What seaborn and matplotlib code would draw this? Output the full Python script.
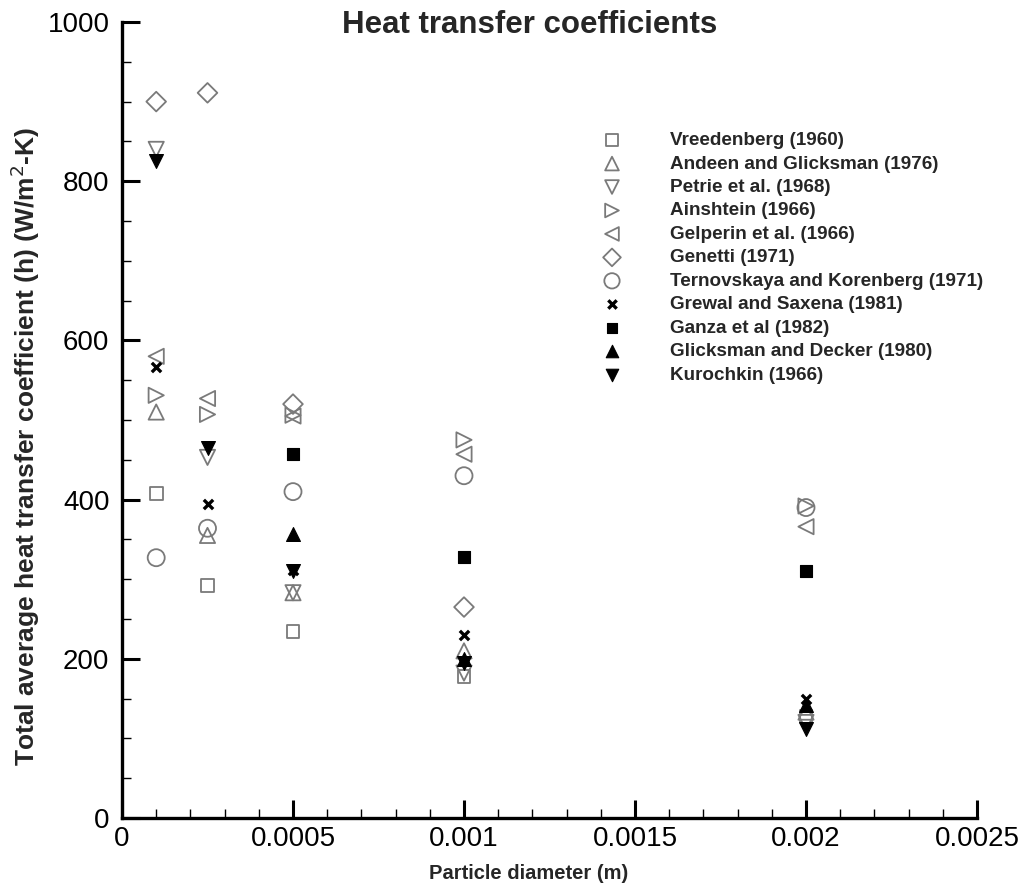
import matplotlib
matplotlib.use("Agg")
import matplotlib.pyplot as plt
from matplotlib.ticker import MultipleLocator, FixedLocator
import seaborn as sns
import pandas as pd

# ---- data ----
vreedenberg_x = [0.0001, 0.00025, 0.0005, 0.001, 0.002]
vreedenberg_y = [408, 292, 234, 178, 128]
andeen_x = [0.0001, 0.00025, 0.0005, 0.001, 0.002]
andeen_y = [510, 355, 283, 210, 133]
petrie_x = [0.0001, 0.00025, 0.0005, 0.001, 0.002]
petrie_y = [840, 453, 283, 182, 120]
ainshtein_x = [0.0001, 0.00025, 0.0005, 0.001, 0.002]
ainshtein_y = [531, 507, 506, 475, 392]
gelperin_x = [0.0001, 0.00025, 0.0005, 0.001, 0.002]
gelperin_y = [580, 527, 505, 457, 366]
genetti_x = [0.0001, 0.00025, 0.0005, 0.001]
genetti_y = [900, 911, 520, 265]
ternovskaya_x = [0.0001, 0.00025, 0.0005, 0.001, 0.002]
ternovskaya_y = [327, 364, 410, 430, 390]
grewal_x = [0.0001, 0.00025, 0.0005, 0.001, 0.002]
grewal_y = [566, 395, 312, 230, 150]
ganza_x = [0.0005, 0.001, 0.002]
ganza_y = [457, 328, 310]
glicksman_x = [0.0005, 0.001, 0.002]
glicksman_y = [357, 200, 142]
kurochkin_x = [0.0001, 0.00025, 0.0005, 0.001, 0.002]
kurochkin_y = [825, 465, 310, 195, 112]

labels = ["Vreedenberg (1960)", "Andeen and Glicksman (1976)", "Petrie et al. (1968)",
          "Ainshtein (1966)", "Gelperin et al. (1966)", "Genetti (1971)",
          "Ternovskaya and Korenberg (1971)", "Grewal and Saxena (1981)",
          "Ganza et al (1982)", "Glicksman and Decker (1980)", "Kurochkin (1966)"]
xs = [vreedenberg_x, andeen_x, petrie_x, ainshtein_x, gelperin_x, genetti_x,
      ternovskaya_x, grewal_x, ganza_x, glicksman_x, kurochkin_x]
ys = [vreedenberg_y, andeen_y, petrie_y, ainshtein_y, gelperin_y, genetti_y,
      ternovskaya_y, grewal_y, ganza_y, glicksman_y, kurochkin_y]

x_ticks = [0, 0.0005, 0.001, 0.0015, 0.002, 0.0025]
x_ticklabels = ["0", "0.0005", "0.001", "0.0015", "0.002", "0.0025"]
y_ticks = [0, 200, 400, 600, 800, 1000]

# ---- styles ----
GRAY = "#7a7a7a"
styles = [
    dict(marker="s", s=85, filled=False),
    dict(marker="^", s=120, filled=False),
    dict(marker="v", s=120, filled=False),
    dict(marker=">", s=120, filled=False),
    dict(marker="<", s=120, filled=False),
    dict(marker="D", s=100, filled=False),
    dict(marker="o", s=150, filled=False),
    dict(marker="x", s=45, filled=None),
    dict(marker="s", s=75, filled=True),
    dict(marker="^", s=100, filled=True),
    dict(marker="v", s=100, filled=True),
]

sns.set_style("ticks")
plt.rcParams["font.family"] = ["Liberation Sans", "DejaVu Sans"]

fig = plt.figure(figsize=(10.26, 8.9), dpi=100)
ax = fig.add_axes([122 / 1026, (890 - 818) / 890, 855 / 1026, 796 / 890])

for lab, x, y, st in zip(labels, xs, ys, styles):
    df = pd.DataFrame({"x": x, "y": y})
    if st["filled"] is None:
        sns.scatterplot(data=df, x="x", y="y", ax=ax, marker="x", s=st["s"],
                        color="black", linewidths=2.4, label=lab, zorder=3)
    elif st["filled"]:
        sns.scatterplot(data=df, x="x", y="y", ax=ax, marker=st["marker"], s=st["s"],
                        color="black", edgecolor="black", linewidth=0.8, label=lab, zorder=3)
    else:
        sns.scatterplot(data=df, x="x", y="y", ax=ax, marker=st["marker"], s=st["s"],
                        color=GRAY, facecolors="none", edgecolor=GRAY, linewidth=1.3,
                        label=lab, zorder=3)

ax.set_xlim(0, 0.0025)
ax.set_ylim(0, 1000)
ax.xaxis.set_major_locator(FixedLocator(x_ticks))
ax.set_xticklabels(x_ticklabels)
ax.xaxis.set_minor_locator(MultipleLocator(0.0001))
ax.yaxis.set_major_locator(FixedLocator(y_ticks))
ax.yaxis.set_minor_locator(MultipleLocator(50))

for side in ["top", "right"]:
    ax.spines[side].set_visible(False)
for side in ["left", "bottom"]:
    ax.spines[side].set_linewidth(2.4)
    ax.spines[side].set_color("black")

ax.tick_params(which="major", direction="in", length=13, width=2.2, labelsize=20,
               colors="black")
ax.tick_params(axis="y", which="major", pad=9)
ax.tick_params(axis="x", which="major", pad=6)
ax.tick_params(which="minor", direction="in", length=6.5, width=1.0, colors="black")

ax.set_xlabel("Particle diameter (m)", fontsize=14.5, fontweight="bold")
ax.xaxis.set_label_coords(0.476, -0.058)
ax.set_ylabel("Total average heat transfer coefficient (h) (W/m$^{2}$-K)", fontsize=19,
              fontweight="bold")
ax.yaxis.set_label_coords(-0.093, 0.467)

fig.text(530 / 1026, 1 - 25 / 890, "Heat transfer coefficients", ha="center", va="center",
         fontsize=22.5, fontweight="bold")

leg = ax.legend(loc="upper left", bbox_to_anchor=(0.551, 0.862), frameon=False,
                prop={"weight": "bold", "size": 13.6}, handletextpad=2.06,
                labelspacing=0.33, borderpad=0, borderaxespad=0, scatterpoints=1,
                markerscale=0.9)

fig.savefig("out.png", dpi=100)
